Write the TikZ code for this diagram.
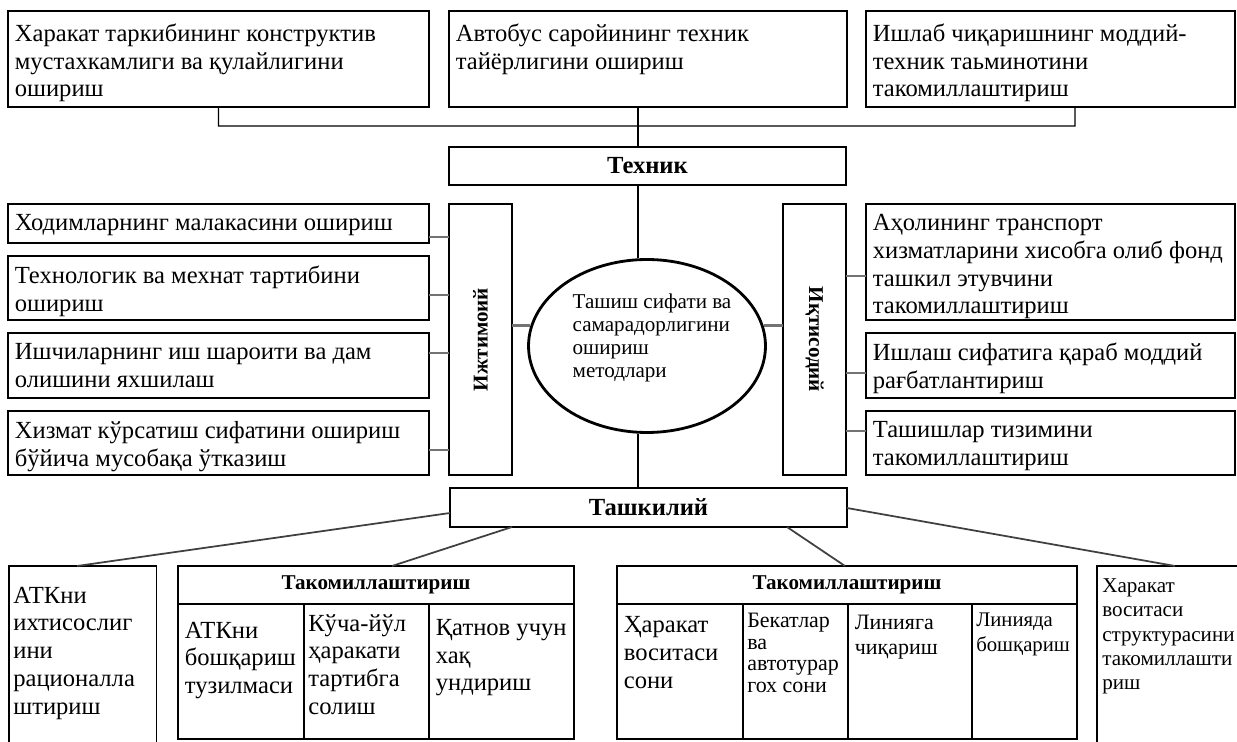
\documentclass[tikz,border=0pt]{standalone}
\usepackage{fontspec}
\setmainfont{Liberation Serif}
\usetikzlibrary{calc, shapes.geometric}

\newcommand{\fsz}[2]{\fontsize{#1}{#2}\selectfont}

\tikzset{
  frame/.style={draw, line width=0.7pt, anchor=north west, inner sep=0pt, outer sep=0pt},
  title/.style={frame, font=\bfseries\fsz{14}{16}},
  txt/.style={anchor=north west, align=left, inner xsep=0.13cm, inner ysep=0.25cm, font=\fsz{14}{15.8}},
  txtsmall/.style={txt, font=\fsz{12}{13.6}},
  wire/.style={line width=0.8pt},
  link/.style={line width=1.2pt, black!55},
  slant/.style={line width=1pt, black!75},
}

\begin{document}
\begin{tikzpicture}[x=0.02cm, y=-0.02cm]

%%Paramaters
%% trunk position, can be modified
\def\trunkX{638}
\def\hubY{126}

\useasboundingbox (0,0) rectangle (1237,742);

    %% Techn. level
    \node[frame, minimum width=8.42cm, minimum height=1.92cm] (tech1) at (8,11) {};
    \node[txt] (tech1t) at (tech1.north west) {Харакат таркибининг конструктив\\мустахкамлиги ва қулайлигини\\ошириш};

    \node[frame, minimum width=7.96cm, minimum height=1.92cm] (tech2) at (449,11) {};
    \node[txt] (tech2t) at (tech2.north west) {Автобус саройининг техник\\тайёрлигини ошириш};

    \node[frame, minimum width=7.38cm, minimum height=1.92cm] (tech3) at (866,11) {};
    \node[txt] (tech3t) at (tech3.north west) {Ишлаб чиқаришнинг моддий-\\техник таьминотини\\такомиллаштириш};

    \coordinate (hubL) at (218.5,\hubY);
    \coordinate (hubR) at (1075,\hubY);

        \draw[wire] (tech1.south) -- (hubL) -- (hubR) -- (hubR |- tech3.south);

    \node[title, minimum width=7.94cm, minimum height=0.76cm] (techhead) at (449,147) {Техник};

        \draw[wire] (tech2.south -| \trunkX,0) -- (techhead.north -| \trunkX,0);

    %% centre
    \node[draw, ellipse, line width=1.6pt, minimum width=4.74cm, minimum height=3.46cm, inner sep=0pt] (centre) at (647,346) {};
    \node[align=left, font=\fsz{12}{13.2}] (centret) at ($(centre) + (5,-8)$) {Ташиш сифати ва\\самарадорлигини\\ошириш\\методлари};

        \draw[wire] (techhead.south -| \trunkX,0) -- (centre.north -| \trunkX,0);

    %% Social side
    \node[frame, minimum width=1.26cm, minimum height=5.42cm, font=\bfseries\fsz{12}{14}] (soc) at (449,204) {\rotatebox{90}{Ижтимоий}};

    \node[frame, minimum width=8.42cm, minimum height=0.78cm] (soc1) at (8,204) {};
    \node[txt, inner ysep=0.2cm] (soc1t) at (soc1.north west) {Ходимларнинг малакасини ошириш};

    \node[frame, minimum width=8.42cm, minimum height=1.28cm] (soc2) at (8,256) {};
    \node[txt, inner ysep=0.2cm] (soc2t) at (soc2.north west) {Технологик ва мехнат тартибини\\ошириш};

    \node[frame, minimum width=8.42cm, minimum height=1.30cm] (soc3) at (8,333) {};
    \node[txt, inner ysep=0.2cm] (soc3t) at (soc3.north west) {Ишчиларнинг иш шароити ва дам\\олишини яхшилаш};

    \node[frame, minimum width=8.42cm, minimum height=1.28cm] (soc4) at (8,411) {};
    \node[txt, inner ysep=0.2cm] (soc4t) at (soc4.north west) {Хизмат кўрсатиш сифатини ошириш\\бўйича мусобақа ўтказиш};

        \draw[link] (soc1.east |- 0,237) -- (soc.west |- 0,237);
        \draw[link] (soc2.east |- 0,295) -- (soc.west |- 0,295);
        \draw[link] (soc3.east |- 0,353) -- (soc.west |- 0,353);
        \draw[link] (soc4.east |- 0,450) -- (soc.west |- 0,450);
        \draw[link] (soc.east |- centre.170) -- (centre.170);

    %% Economic side
    \node[frame, minimum width=1.26cm, minimum height=5.42cm, font=\bfseries\fsz{12}{14}] (eco) at (783,204) {\rotatebox{-90}{Иқтисодий}};

    \node[frame, minimum width=7.38cm, minimum height=2.32cm] (eco1) at (866,204) {};
    \node[txt, inner ysep=0.2cm] (eco1t) at (eco1.north west) {Аҳолининг транспорт\\хизматларини хисобга олиб фонд\\ташкил этувчини\\такомиллаштириш};

    \node[frame, minimum width=7.38cm, minimum height=1.30cm] (eco2) at (866,333) {};
    \node[txt, inner ysep=0.2cm] (eco2t) at (eco2.north west) {Ишлаш сифатига қараб моддий\\рағбатлантириш};

    \node[frame, minimum width=7.38cm, minimum height=1.28cm] (eco3) at (866,411) {};
    \node[txt, inner ysep=0.2cm] (eco3t) at (eco3.north west) {Ташишлар тизимини\\такомиллаштириш};

        \draw[link] (eco.east |- 0,276) -- (eco1.west |- 0,276);
        \draw[link] (eco.east |- 0,373) -- (eco2.west |- 0,373);
        \draw[link] (eco.east |- 0,431) -- (eco3.west |- 0,431);
        \draw[link] (centre.10) -- (eco.west |- centre.10);

    %% Organisational level
    \node[title, minimum width=7.94cm, minimum height=0.78cm] (org) at (450,488) {Ташкилий};

        \draw[wire] (centre.south -| \trunkX,0) -- (org.north -| \trunkX,0);

    %% open box, left
    \node[anchor=north west, inner sep=0pt, minimum width=2.94cm, minimum height=3.7cm] (org1) at (9,566) {};
    \draw[wire] (org1.south west) |- (org1.north east) -- (org1.south east);
    \node[txt, yshift=-0.16cm, inner xsep=0.08cm] (org1t) at (org1.north west) {АТКни\\ихтисослиг\\ини\\рационалла\\штириш};

    %% Takomil. box 1
    \node[frame, minimum width=7.92cm, minimum height=3.46cm] (org2) at (178,566) {};
    \node[frame, minimum width=7.92cm, minimum height=0.76cm, font=\bfseries\fsz{12}{14}] (org2h) at (org2.north west) {Такомиллаштириш};
    \node[frame, minimum width=2.52cm, minimum height=2.70cm] (org2a) at (org2h.south west) {};
    \node[frame, minimum width=2.50cm, minimum height=2.70cm] (org2b) at (org2a.north east) {};
    \node[frame, minimum width=2.90cm, minimum height=2.70cm] (org2c) at (org2b.north east) {};
    \node[txt, yshift=-0.1cm] (org2at) at (org2a.north west) {АТКни\\бошқариш\\тузилмаси};
    \node[txt, yshift=0.05cm, inner xsep=0.08cm] (org2bt) at (org2b.north west) {Кўча-йўл\\ҳаракати\\тартибга\\солиш};
    \node[txt, yshift=-0.05cm] (org2ct) at (org2c.north west) {Қатнов учун\\хақ\\ундириш};

    %% Takomil. box 2
    \node[frame, minimum width=9.20cm, minimum height=3.46cm] (org3) at (617,566) {};
    \node[frame, minimum width=9.20cm, minimum height=0.76cm, font=\bfseries\fsz{12}{14}] (org3h) at (org3.north west) {Такомиллаштириш};
    \node[frame, minimum width=2.52cm, minimum height=2.70cm] (org3a) at (org3h.south west) {};
    \node[frame, minimum width=2.10cm, minimum height=2.70cm] (org3b) at (org3a.north east) {};
    \node[frame, minimum width=2.48cm, minimum height=2.70cm] (org3c) at (org3b.north east) {};
    \node[frame, minimum width=2.10cm, minimum height=2.70cm] (org3d) at (org3c.north east) {};
    \node[txt] (org3at) at (org3a.north west) {Ҳаракат\\воситаси\\сони};
    \node[txtsmall, font=\fsz{12.5}{12.2}, inner xsep=0.08cm, inner ysep=0.18cm] (org3bt) at (org3b.north west) {Бекатлар\\ва\\автотурар\\гох сони};
    \node[txtsmall, font=\fsz{12.5}{14.2}, inner ysep=0.22cm] (org3ct) at (org3c.north west) {Линияга\\чиқариш};
    \node[txtsmall, font=\fsz{11.8}{14}, inner xsep=0.08cm, inner ysep=0.18cm] (org3dt) at (org3d.north west) {Линияда\\бошқариш};

    %% open box, right
    \node[anchor=north west, inner sep=0pt, minimum width=2.9cm, minimum height=3.7cm] (org4) at (1097,566) {};
    \draw[wire] (org4.south west) |- (org4.north east) -- (org4.south east);
    \node[txtsmall, font=\fsz{12}{13.8}, inner xsep=0.1cm] (org4t) at (org4.north west) {Харакат\\воситаси\\структурасини\\такомиллашти\\риш};

        \draw[slant] (org.west |- 0,513) -- (org1.north -| 77,0);
        \draw[slant] (org.south -| 512,0) -- (org2.north -| 392,0);
        \draw[slant] (org.south -| 787,0) -- (org3.north -| 845,0);
        \draw[slant] (org.east |- 0,508) -- (org4.north -| 1175,0);

\end{tikzpicture}
\end{document}
